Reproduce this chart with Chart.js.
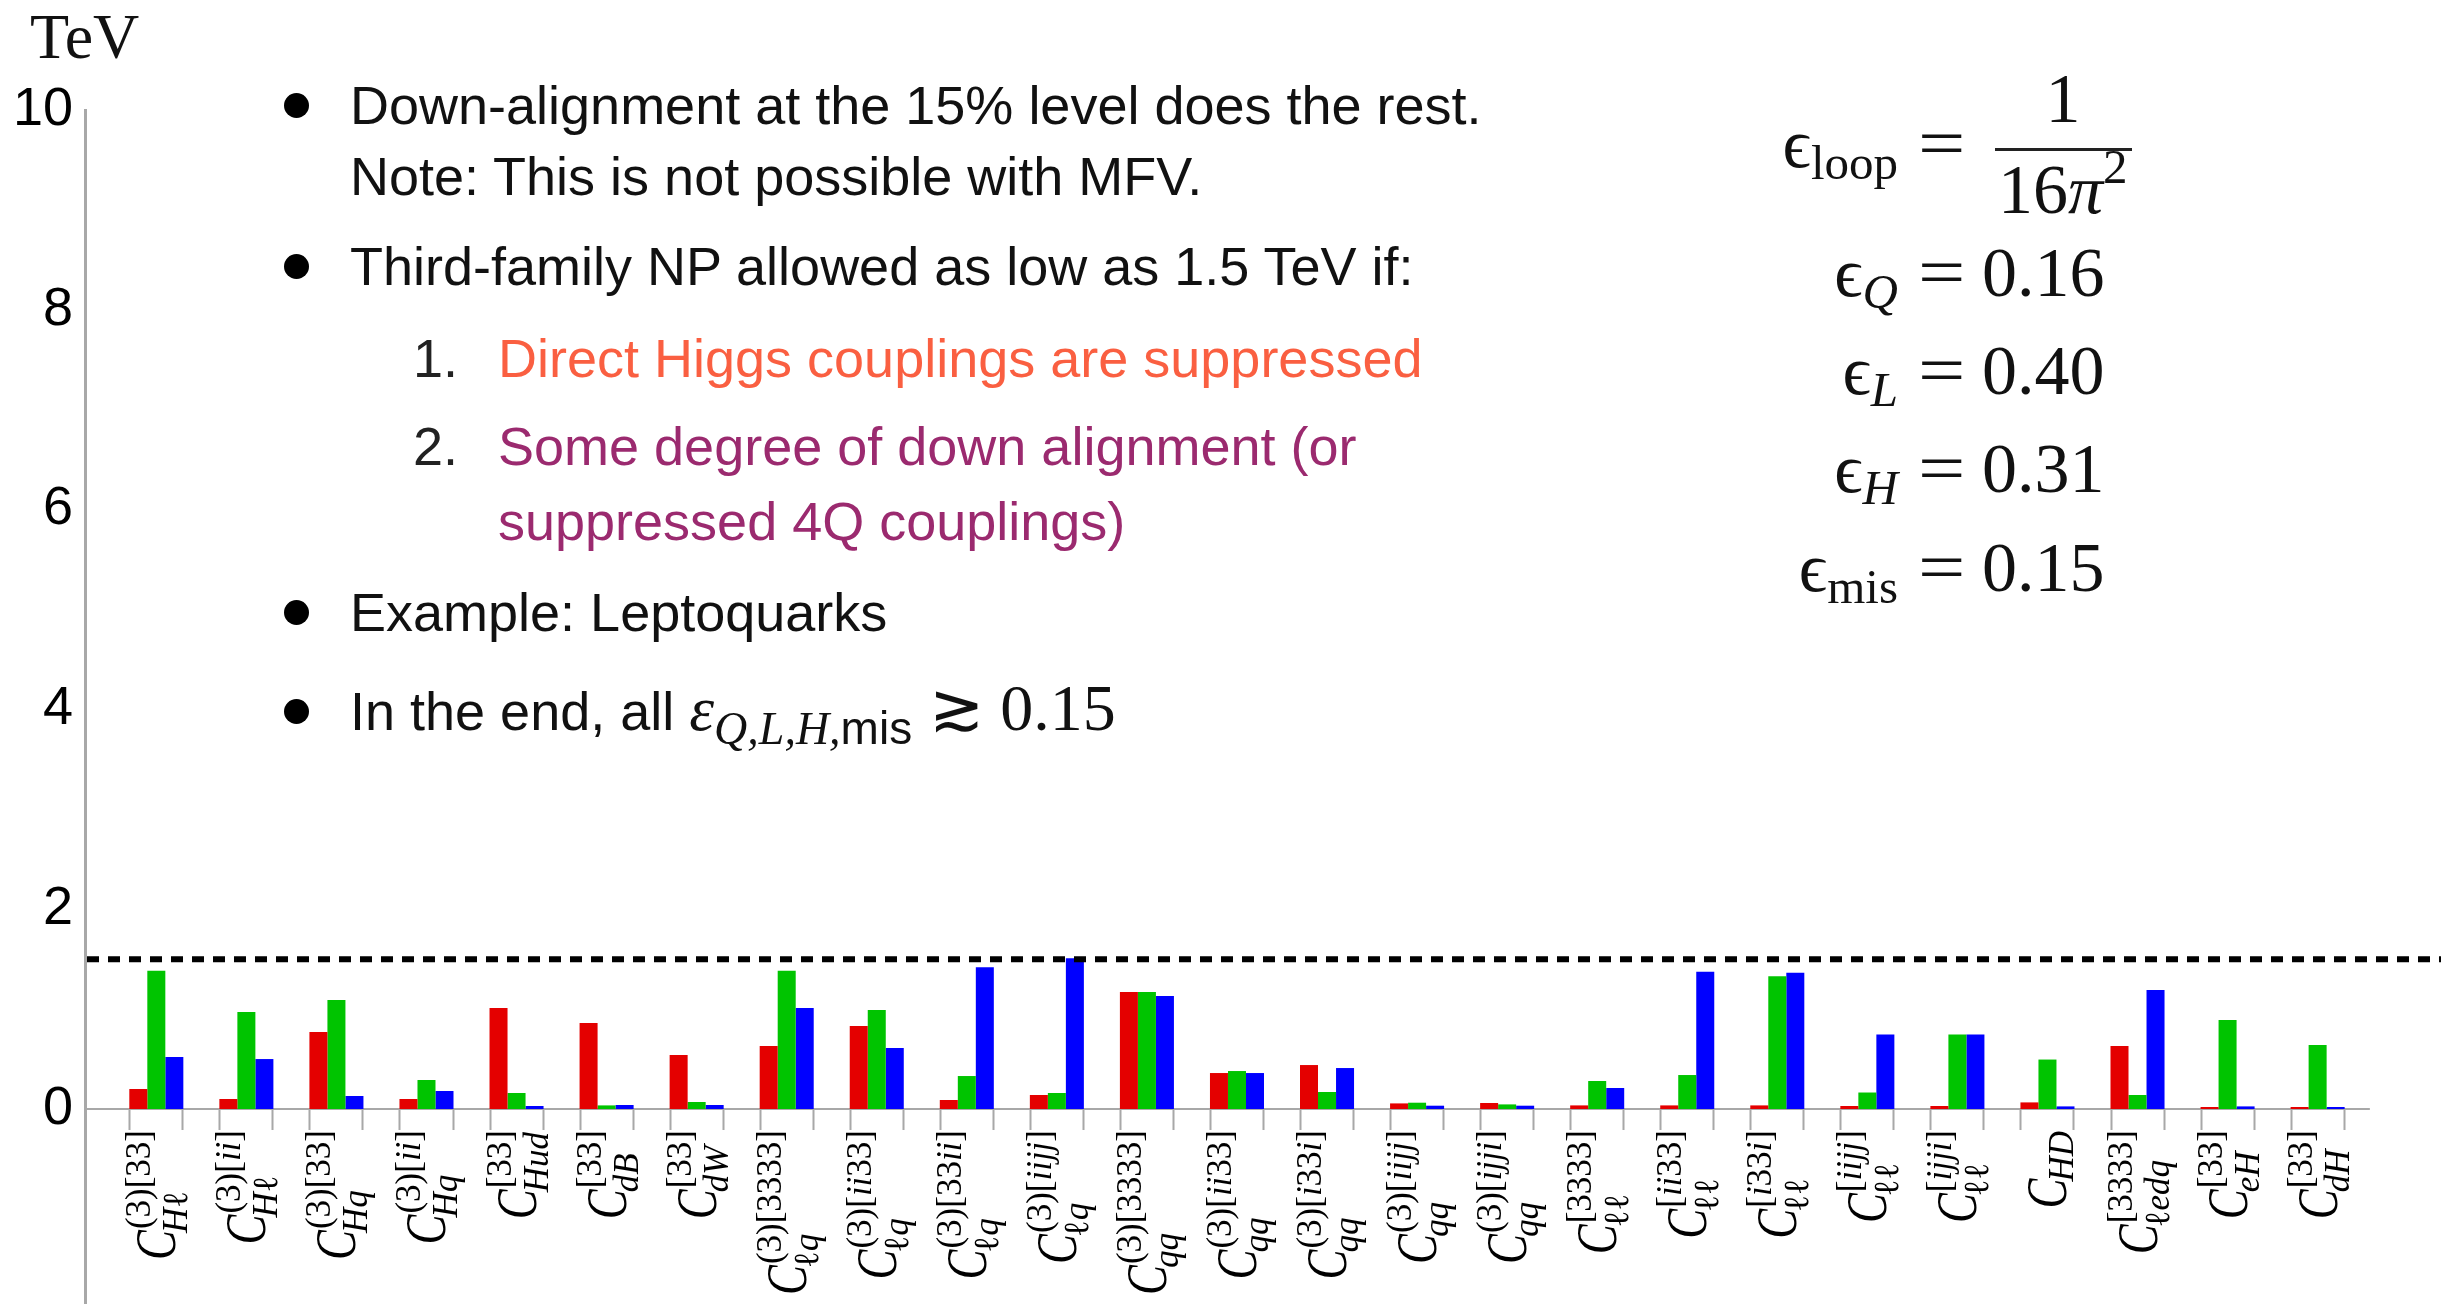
<!DOCTYPE html>
<html>
<head>
<meta charset="utf-8">
<script src="https://cdn.jsdelivr.net/npm/chart.js@4.4.1/dist/chart.umd.min.js"></script>
<style>
  html, body { margin: 0; padding: 0; background: #fff; }
  #wrap { position: relative; width: 2441px; height: 1304px; overflow: hidden; background: #fff; }
  #chart { position: absolute; left: 0; top: 0; }
  .t { position: absolute; white-space: nowrap; line-height: 1; color: #111; }
  .sans { font-family: "Liberation Sans", Arial, Helvetica, sans-serif; font-size: 54px; }
  .serif { font-family: "Liberation Serif", "DejaVu Serif", serif; }
  .it { font-style: italic; }
  .dot { position: absolute; width: 25px; height: 25px; border-radius: 50%; background: #000; }
  .bar { position: absolute; height: 3px; background: #222; }
</style>
</head>
<body>
<div id="wrap">
  <canvas id="chart" width="2441" height="1304"></canvas>
</div>
<script>
// --- data (TeV) ---
const categories = [
  "C_Hℓ^(3)[33]", "C_Hℓ^(3)[ii]", "C_Hq^(3)[33]", "C_Hq^(3)[ii]", "C_Hud^[33]",
  "C_dB^[33]", "C_dW^[33]", "C_ℓq^(3)[3333]", "C_ℓq^(3)[ii33]", "C_ℓq^(3)[33ii]",
  "C_ℓq^(3)[iijj]", "C_qq^(3)[3333]", "C_qq^(3)[ii33]", "C_qq^(3)[i33i]", "C_qq^(3)[iijj]",
  "C_qq^(3)[ijji]", "C_ℓℓ^[3333]", "C_ℓℓ^[ii33]", "C_ℓℓ^[i33i]", "C_ℓℓ^[iijj]",
  "C_ℓℓ^[ijji]", "C_HD", "C_ℓedq^[3333]", "C_eH^[33]", "C_dH^[33]"
];
const labelSub = [
  "Hℓ", "Hℓ", "Hq", "Hq", "Hud", "dB", "dW", "ℓq", "ℓq", "ℓq", "ℓq", "qq", "qq",
  "qq", "qq", "qq", "ℓℓ", "ℓℓ", "ℓℓ", "ℓℓ", "ℓℓ", "HD", "ℓedq", "eH", "dH"
];
const labelSup = [
  "(3)[33]", "(3)[ii]", "(3)[33]", "(3)[ii]", "[33]", "[33]", "[33]", "(3)[3333]",
  "(3)[ii33]", "(3)[33ii]", "(3)[iijj]", "(3)[3333]", "(3)[ii33]", "(3)[i33i]",
  "(3)[iijj]", "(3)[ijji]", "[3333]", "[ii33]", "[i33i]", "[iijj]", "[ijji]", "",
  "[3333]", "[33]", "[33]"
];
const redValues = [
  0.20, 0.10, 0.77, 0.10, 1.01, 0.86, 0.54, 0.63, 0.83, 0.09, 0.14, 1.17, 0.36,
  0.44, 0.056, 0.06, 0.036, 0.036, 0.036, 0.03, 0.03, 0.066, 0.63, 0.02, 0.02
];
const greenValues = [
  1.385, 0.97, 1.09, 0.29, 0.16, 0.036, 0.07, 1.385, 0.99, 0.33, 0.16, 1.17, 0.38,
  0.17, 0.063, 0.046, 0.28, 0.34, 1.33, 0.165, 0.745, 0.495, 0.14, 0.89, 0.64
];
const blueValues = [
  0.52, 0.50, 0.13, 0.18, 0.03, 0.04, 0.04, 1.01, 0.61, 1.42, 1.51, 1.13, 0.36,
  0.41, 0.033, 0.033, 0.21, 1.375, 1.365, 0.745, 0.745, 0.026, 1.19, 0.026, 0.02
];
const yTicks = [0, 2, 4, 6, 8, 10];
const threshold = 1.5;

const SERIF = '"Liberation Serif", "DejaVu Serif", serif';
const SCRIPT = 35;

function charFont(ch, size) {
  return (/[a-zA-Z]/.test(ch) ? "italic " : "") + size + "px " + SERIF;
}
function richWidth(ctx, s, size) {
  let w = 0;
  for (const ch of s) { ctx.font = charFont(ch, size); w += ctx.measureText(ch).width; }
  return w;
}
function drawRich(ctx, s, x, y, size) {
  for (const ch of s) {
    ctx.font = charFont(ch, size);
    ctx.fillText(ch, x, y);
    x += ctx.measureText(ch).width;
  }
}

// baseline, tick brackets and the dashed 1.5 TeV line
const refLines = {
  id: "refLines",
  beforeDatasetsDraw(chart) {
    const { ctx, chartArea, scales: { x, y } } = chart;
    const y0 = y.getPixelForValue(0);
    ctx.save();
    ctx.strokeStyle = "#a8a8a8";
    ctx.lineWidth = 2;
    ctx.beginPath();
    ctx.moveTo(chartArea.left, y0);
    ctx.lineTo(x.getPixelForValue(categories.length - 0.42), y0);
    ctx.stroke();
    const first = chart.getDatasetMeta(0).data;
    const last = chart.getDatasetMeta(2).data;
    ctx.beginPath();
    first.forEach((bar, i) => {
      const a = bar.getProps(["x", "width"], true);
      const b = last[i].getProps(["x", "width"], true);
      const l = Math.round(a.x - a.width / 2) + 0.5;
      const r = Math.round(b.x + b.width / 2) - 0.5;
      ctx.moveTo(l, y0); ctx.lineTo(l, y0 + 21);
      ctx.moveTo(r, y0); ctx.lineTo(r, y0 + 21);
    });
    ctx.stroke();
    ctx.restore();
  },
  afterDatasetsDraw(chart) {
    const { ctx, chartArea, scales: { y } } = chart;
    const yt = y.getPixelForValue(threshold);
    ctx.save();
    ctx.strokeStyle = "#000";
    ctx.lineWidth = 6;
    ctx.setLineDash([12, 9]);
    ctx.beginPath();
    ctx.moveTo(chartArea.left + 2, yt);
    ctx.lineTo(chartArea.right, yt);
    ctx.stroke();
    ctx.restore();
  }
};

// rotated Wilson-coefficient labels under each group
const coeffLabels = {
  id: "coeffLabels",
  afterDraw(chart) {
    const { ctx, scales: { x, y } } = chart;
    const top = y.getPixelForValue(0) + 22;
    ctx.save();
    ctx.fillStyle = "#000";
    ctx.textBaseline = "alphabetic";
    ctx.textAlign = "left";
    categories.forEach((_, i) => {
      const cx = x.getPixelForValue(i);
      ctx.font = "italic 56px " + SERIF;
      const wC = ctx.measureText("C").width * 0.8;
      const wSup = richWidth(ctx, labelSup[i], SCRIPT);
      const wSub = richWidth(ctx, labelSub[i], SCRIPT);
      const total = wC + Math.max(wSup, wSub - 3);
      ctx.save();
      ctx.translate(cx + 19, top + total);
      ctx.rotate(-Math.PI / 2);
      ctx.save();
      ctx.scale(0.8, 1);
      ctx.font = "italic 56px " + SERIF;
      ctx.fillText("C", 0, 0);
      ctx.restore();
      drawRich(ctx, labelSup[i], wC + 1, -25, SCRIPT);
      drawRich(ctx, labelSub[i], wC - 3, labelSup[i] ? 12 : 7, SCRIPT);
      ctx.restore();
    });
    ctx.restore();
  }
};

const toPoints = (vals) => vals.map((v, i) => ({ x: i, y: v }));

new Chart(document.getElementById("chart"), {
  type: "bar",
  data: {
    datasets: [
      { label: "red", data: toPoints(redValues), backgroundColor: "#e40000" },
      { label: "green", data: toPoints(greenValues), backgroundColor: "#00c400" },
      { label: "blue", data: toPoints(blueValues), backgroundColor: "#0000ff" }
    ]
  },
  options: {
    responsive: false,
    animation: false,
    devicePixelRatio: 1,
    layout: { padding: { top: 110, left: 0, right: 0, bottom: 0 } },
    datasets: { bar: { categoryPercentage: 0.6, barPercentage: 1.0, borderWidth: 0 } },
    plugins: { legend: { display: false }, tooltip: { enabled: false } },
    scales: {
      x: {
        type: "linear",
        display: false,
        offset: false,
        min: -0.792,
        max: 25.37,
        afterBuildTicks: (s) => { s.ticks = categories.map((_, i) => ({ value: i })); }
      },
      y: {
        min: -1.952,
        max: 10,
        afterBuildTicks: (s) => { s.ticks = yTicks.map((v) => ({ value: v })); },
        afterFit: (s) => { s.width = 85; s.paddingTop = 0; s.paddingBottom = 0; },
        grid: { display: false, drawTicks: false },
        border: { display: true, color: "#a8a8a8", width: 3 },
        ticks: {
          padding: 12,
          color: "#000",
          font: { family: '"Liberation Sans", Arial, sans-serif', size: 54 }
        }
      }
    }
  },
  plugins: [refLines, coeffLabels]
});

// --- slide text around the chart ---
const wrap = document.getElementById("wrap");
function addText(html, cls, x, base, opts) {
  opts = opts || {};
  const el = document.createElement("div");
  el.className = "t " + cls;
  el.innerHTML = html;
  if (opts.size) el.style.fontSize = opts.size + "px";
  if (opts.color) el.style.color = opts.color;
  if (opts.right) el.style.right = (2441 - x) + "px"; else el.style.left = x + "px";
  if (opts.center) el.style.transform = "translateX(-50%)";
  const m = document.createElement("span");
  m.style.cssText = "display:inline-block;width:0;height:0;vertical-align:baseline";
  el.appendChild(m);
  el.style.top = "0px";
  wrap.appendChild(el);
  const b = m.getBoundingClientRect().top - wrap.getBoundingClientRect().top;
  el.style.top = (base - b) + "px";
  return el;
}
function addDot(cx, cy) {
  const d = document.createElement("div");
  d.className = "dot";
  d.style.left = (cx - 12.5) + "px";
  d.style.top = (cy - 12.5) + "px";
  wrap.appendChild(d);
}

addText("TeV", "serif", 30, 58, { size: 64 });

const ORANGE = "#fa5f41", PURPLE = "#9b2a6f";
addDot(296, 105);
addText("Down-alignment at the 15% level does the rest.", "sans", 350, 124);
addText("Note: This is not possible with MFV.", "sans", 350, 195);
addDot(296, 266);
addText("Third-family NP allowed as low as 1.5 TeV if:", "sans", 350, 285);
addText("1.", "sans", 413, 377, { color: "#222" });
addText("Direct Higgs couplings are suppressed", "sans", 498, 377, { color: ORANGE });
addText("2.", "sans", 413, 465, { color: "#222" });
addText("Some degree of down alignment (or", "sans", 498, 465, { color: PURPLE });
addText("suppressed 4Q couplings)", "sans", 498, 540, { color: PURPLE });
addDot(296, 612);
addText("Example: Leptoquarks", "sans", 350, 631);
addDot(296, 711);
addText('In the end, all <span class="serif it" style="font-size:63px">ε</span>' +
  '<span style="position:relative;top:14px;font-size:46px"><span class="serif it">Q,L,H,</span>mis</span>' +
  '<span class="serif" style="font-size:66px"> ≳ 0.15</span>', "sans", 350, 730);

// right-hand epsilon values
const sub = (s, it) => '<span style="font-size:49px;position:relative;top:12px"' +
  (it ? ' class="it"' : "") + ">" + s + "</span>";
const eq = '<span style="display:inline-block;transform:scaleX(1.2);transform-origin:left">=</span>';
const epsRows = [
  { left: "ϵ" + sub("loop", false), base: 167 },
  { left: "ϵ" + sub("Q", true), right: "0.16", base: 296 },
  { left: "ϵ" + sub("L", true), right: "0.40", base: 394 },
  { left: "ϵ" + sub("H", true), right: "0.31", base: 492 },
  { left: "ϵ" + sub("mis", false), right: "0.15", base: 591 }
];
epsRows.forEach((r) => {
  addText(r.left, "serif", 1898, r.base, { size: 70, right: true });
  addText(eq, "serif", 1918, r.base, { size: 70 });
  if (r.right) addText(r.right, "serif", 1982, r.base, { size: 70 });
});
addText("1", "serif", 2063, 122, { size: 70, center: true });
const fb = document.createElement("div");
fb.className = "bar";
fb.style.left = "1995px"; fb.style.top = "148px"; fb.style.width = "137px";
wrap.appendChild(fb);
addText('16<span class="it">π</span><span style="font-size:49px;position:relative;top:-30px">2</span>',
  "serif", 1998, 213, { size: 70 });
</script>
</body>
</html>
